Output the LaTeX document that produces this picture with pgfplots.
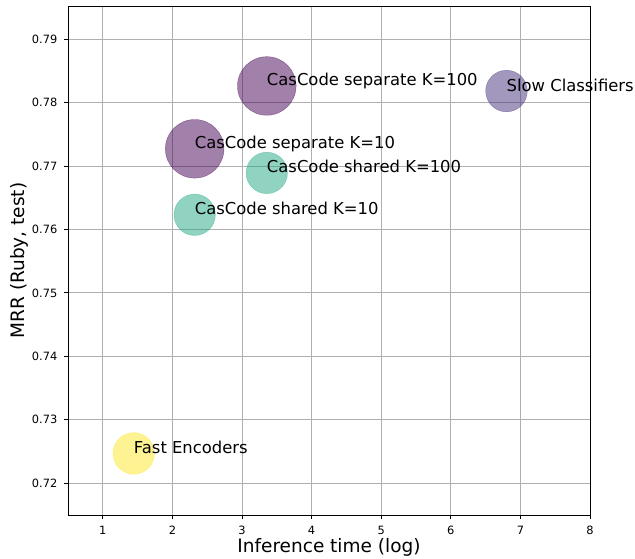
\documentclass[border=0pt]{standalone}
\usepackage{pgfplots}
\pgfplotsset{compat=1.18}
\usepackage{pgfplotstable}
\usepackage{fontspec}
\setmainfont{DejaVu Sans}
\definecolor{vsep}{HTML}{440154}
\definecolor{vslow}{HTML}{46327E}
\definecolor{vshared}{HTML}{22A884}
\definecolor{vfast}{HTML}{FDE725}
\definecolor{gridc}{HTML}{B0B0B0}
\pgfplotstableread[col sep=comma]{
x,y,label
1.445,0.7247,Fast Encoders
2.32,0.7623,CasCode shared K=10
3.356,0.7689,CasCode shared K=100
2.32,0.7727,CasCode separate K=10
3.356,0.7826,CasCode separate K=100
6.80,0.7818,Slow Classifiers
}\labeltable
\begin{document}
\begin{tikzpicture}
\useasboundingbox (-68pt,-43pt) rectangle (567pt,515pt);
\begin{axis}[
  at={(0,0)}, anchor=south west,
  scale only axis, width=522pt, height=509pt,
  xmin=0.5, xmax=8, ymin=0.715, ymax=0.7952,
  xtick={1,2,3,4,5,6,7,8},
  ytick={0.72,0.73,0.74,0.75,0.76,0.77,0.78,0.79},
  xtick pos=bottom, ytick pos=left,
  /pgf/number format/assume math mode=true,
  scaled y ticks=false,
  tick align=outside, major tick length=3.5pt,
  tick style={black, line width=0.8pt},
  axis line style={black, line width=0.8pt},
  grid=major, grid style={gridc, line width=0.8pt},
  ticklabel style={font=\fontsize{11.4}{13}\selectfont},
  xticklabel style={anchor=north, inner sep=0pt, yshift=-7pt},
  yticklabel style={anchor=east, inner sep=0pt, xshift=-7pt,
    /pgf/number format/fixed, /pgf/number format/fixed zerofill, /pgf/number format/precision=2},
  xlabel={Inference time (log)},
  ylabel={MRR (Ruby, test)},
  label style={font=\fontsize{18.5}{22}\selectfont},
  xlabel style={at={(axis description cs:0.5,-0.0629)}, anchor=center},
  ylabel style={at={(axis description cs:-0.0939,0.5)}, anchor=center},
  clip=false,
]
\addplot[only marks, mark=*, mark size=20.8pt, mark options={fill=vfast, draw=vfast, fill opacity=0.5, draw opacity=0.5}] coordinates {(1.445,0.7247)};
\addplot[only marks, mark=*, mark size=20.7pt, mark options={fill=vshared, draw=vshared, fill opacity=0.5, draw opacity=0.5}] coordinates {(2.32,0.7623) (3.356,0.7689)};
\addplot[only marks, mark=*, mark size=29.3pt, mark options={fill=vsep, draw=vsep, fill opacity=0.5, draw opacity=0.5}] coordinates {(2.32,0.7727) (3.356,0.7826)};
\addplot[only marks, mark=*, mark size=20.8pt, mark options={fill=vslow, draw=vslow, fill opacity=0.5, draw opacity=0.5}] coordinates {(6.80,0.7818)};
\addplot[draw=none, mark=none, nodes near coords, point meta=explicit symbolic,
  nodes near coords style={anchor=base west, inner sep=0pt, font=\fontsize{16.4}{19}\selectfont, text=black}]
  table[x=x, y=y, meta=label] {\labeltable};
\end{axis}
\end{tikzpicture}
\end{document}
